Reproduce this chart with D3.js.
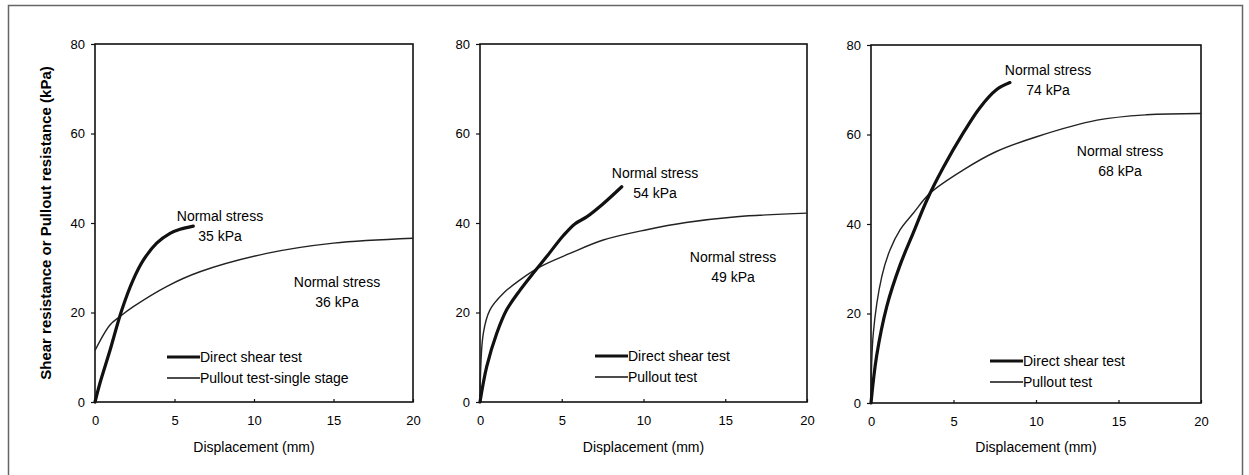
<!DOCTYPE html>
<html>
<head>
<meta charset="utf-8">
<script src="https://cdn.jsdelivr.net/npm/d3@7"></script>
<style>
  body { margin: 0; background: #fff; }
  text { font-family: Arial, "Liberation Sans", sans-serif; fill: #000; }
</style>
</head>
<body>
<div id="chart"></div>
<script>
// chart size
const width = 1249;
const height = 475;

// axis ticks
const xTicks = [0, 5, 10, 15, 20];
const yTicks = [0, 20, 40, 60, 80];

// panel 1 - single stage pullout
const shear1 = [[0, 0], [0.31, 4.2], [0.94, 11.5], [1.68, 20.5], [2.4, 27.3], [3.04, 31.7], [3.88, 35.5], [4.72, 37.7], [5.35, 38.6], [6.18, 39.3]];
const pullout1 = [[0, 11.5], [0.94, 17.2], [1.57, 19.1], [2.41, 21.3], [4.5, 25.8], [6.6, 29.1], [10.8, 33.2], [15, 35.5], [20, 36.6]];

// panel 2
const shear2 = [[0, 0], [0.41, 7.9], [1.02, 15.3], [1.63, 20.6], [2.45, 25], [3.26, 28.8], [4.08, 32.5], [5.1, 37.2], [5.8, 39.8], [6.5, 41.3], [7.5, 44.2], [8.67, 48.1]];
const pullout2 = [[0, 0], [0.2, 15.3], [0.61, 20.6], [1.43, 24.3], [2.45, 27.3], [3.67, 30.2], [5.5, 33.2], [7.54, 36.2], [10.2, 38.5], [12.6, 40.1], [15.7, 41.4], [20, 42.2]];

// panel 3
const shear3 = [[0, 0], [0.34, 10.5], [0.95, 21.5], [1.76, 30.8], [2.56, 38], [3.37, 45.2], [4.38, 52.6], [5.6, 60.4], [6.6, 66], [7.6, 70], [8.42, 71.6]];
const pullout3 = [[0, 0], [0.14, 15.6], [0.65, 28.2], [1.15, 34.2], [1.76, 38.7], [2.56, 42.4], [3.58, 46.9], [5.6, 52.1], [7.6, 56.2], [10.04, 59.5], [13.7, 63.2], [16.7, 64.4], [20, 64.7]];

// labels
const legendShear = ["Direct shear test", "Direct shear test", "Direct shear test"];
const legendPullout = ["Pullout test-single stage", "Pullout test", "Pullout test"];
const shearStress = ["35 kPa", "54 kPa", "74 kPa"];
const pulloutStress = ["36 kPa", "49 kPa", "68 kPa"];

// layout of each panel (pixel boxes + where the notes go)
const panels = [
  { x0: 95, x1: 413, y0: 44, y1: 402, shear: shear1, pullout: pullout1,
    noteA: [220, 216], noteB: [337, 282], legend: [167, 357] },
  { x0: 480, x1: 807, y0: 44, y1: 402, shear: shear2, pullout: pullout2,
    noteA: [655, 173], noteB: [733, 257], legend: [595, 356] },
  { x0: 871, x1: 1201, y0: 45, y1: 403, shear: shear3, pullout: pullout3,
    noteA: [1048, 70], noteB: [1120, 151], legend: [990, 361] }
];

const svg = d3.select("#chart")
  .append("svg")
  .attr("width", width)
  .attr("height", height);

// outer figure frame
svg.append("path")
  .attr("d", `M8.5,${height} V5.5 H1242.5 V${height}`)
  .attr("fill", "none")
  .attr("stroke", "#666")
  .attr("stroke-width", 1.5);

panels.forEach((p, i) => {
  const x = d3.scaleLinear().domain([0, 20]).range([p.x0, p.x1]);
  const y = d3.scaleLinear().domain([0, 80]).range([p.y1, p.y0]);
  const g = svg.append("g");

  // y axis
  const yAxis = g.append("g")
    .attr("transform", `translate(${p.x0},0)`)
    .call(d3.axisLeft(y).tickValues(yTicks).tickSize(4).tickPadding(6));
  // x axis (ticks point inside)
  const xAxis = g.append("g")
    .attr("transform", `translate(0,${p.y1})`)
    .call(d3.axisBottom(x).tickValues(xTicks).tickSize(-3).tickPadding(14));

  [xAxis, yAxis].forEach(a => {
    a.select(".domain").remove();
    a.selectAll("line").attr("stroke", "#111").attr("stroke-width", 1.2);
    a.selectAll("text")
      .style("font-family", "Arial, 'Liberation Sans', sans-serif")
      .style("font-size", "13px")
      .attr("fill", "#000");
  });

  // plot box
  g.append("rect")
    .attr("x", p.x0).attr("y", p.y0)
    .attr("width", p.x1 - p.x0).attr("height", p.y1 - p.y0)
    .attr("fill", "none")
    .attr("stroke", "#111")
    .attr("stroke-width", 1.6);

  const line = d3.line()
    .x(d => x(d[0]))
    .y(d => y(d[1]))
    .curve(d3.curveCatmullRom.alpha(0.5));

  g.append("path")
    .datum(p.pullout)
    .attr("d", line)
    .attr("fill", "none")
    .attr("stroke", "#222")
    .attr("stroke-width", 1.4);

  g.append("path")
    .datum(p.shear)
    .attr("d", line)
    .attr("fill", "none")
    .attr("stroke", "#111")
    .attr("stroke-width", 3.2)
    .attr("stroke-linecap", "round");

  // normal stress notes
  [[p.noteA, shearStress[i]], [p.noteB, pulloutStress[i]]].forEach(([pos, val]) => {
    const t = g.append("text")
      .attr("x", pos[0]).attr("y", pos[1])
      .attr("text-anchor", "middle")
      .style("font-size", "14px");
    t.append("tspan").attr("x", pos[0]).attr("dy", "0.35em").text("Normal stress");
    t.append("tspan").attr("x", pos[0]).attr("dy", "1.45em").text(val);
  });

  // legend
  const [lx, ly] = p.legend;
  [[legendShear[i], 3.2, 0], [legendPullout[i], 1.4, 21]].forEach(([label, sw, dy]) => {
    g.append("line")
      .attr("x1", lx).attr("x2", lx + 33)
      .attr("y1", ly + dy).attr("y2", ly + dy)
      .attr("stroke", "#111")
      .attr("stroke-width", sw);
    g.append("text")
      .attr("x", lx + 33).attr("y", ly + dy)
      .attr("dy", "0.35em")
      .style("font-size", "14px")
      .text(label);
  });

  // x axis title
  g.append("text")
    .attr("x", (p.x0 + p.x1) / 2)
    .attr("y", 447)
    .attr("dy", "0.35em")
    .attr("text-anchor", "middle")
    .style("font-size", "14px")
    .text("Displacement (mm)");
});

// y axis title on the first panel only
svg.append("text")
  .attr("transform", `translate(46,${(44 + 402) / 2}) rotate(-90)`)
  .attr("dy", "0.35em")
  .attr("text-anchor", "middle")
  .style("font-size", "15px")
  .style("font-weight", "bold")
  .text("Shear resistance or Pullout resistance (kPa)");
</script>
</body>
</html>
